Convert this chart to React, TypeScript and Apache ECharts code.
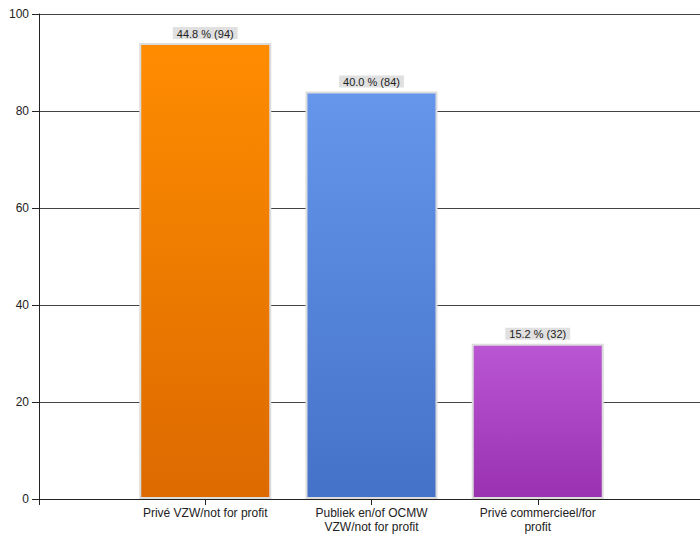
import React, { useEffect, useRef } from "react";
import * as echarts from "echarts";

const categories = ["Privé VZW/not for profit", "Publiek en/of OCMW\nVZW/not for profit", "Privé commercieel/for\nprofit"];
const counts = [94, 84, 32];
const percents = ["44.8", "40.0", "15.2"];
const yTicks = { min: 0, max: 100, interval: 20 };
const colorsTop = ["#ff8c00", "#6596ec", "#ba55d4"];
const colorsBottom = ["#dc6a00", "#4472c8", "#9a32b0"];

export default function App() {
  const ref = useRef<HTMLDivElement>(null);
  useEffect(() => {
    const chart = echarts.init(ref.current!, null, { renderer: "svg" });
    const font = "'Liberation Sans', Arial, sans-serif";
    chart.setOption({
      animation: false,
      grid: { left: 39, right: 0, top: 14, bottom: 40 },
      xAxis: {
        type: "value",
        min: 0,
        max: 4,
        interval: 1,
        splitLine: { show: false },
        axisLine: { show: true, lineStyle: { color: "#222", width: 1 } },
        axisTick: { show: true, length: 6, lineStyle: { color: "#222" } },
        axisLabel: {
          margin: 7,
          color: "#222",
          fontFamily: font,
          fontSize: 12,
          lineHeight: 14,
          formatter: (v: number) => (v >= 1 && v <= 3 ? categories[v - 1] : ""),
        },
      },
      yAxis: {
        type: "value",
        min: yTicks.min,
        max: yTicks.max,
        interval: yTicks.interval,
        axisLine: { show: true, lineStyle: { color: "#222", width: 1 } },
        axisTick: { show: true, length: 7, lineStyle: { color: "#222" } },
        axisLabel: { margin: 10, color: "#222", fontFamily: font, fontSize: 12 },
        splitLine: { show: true, lineStyle: { color: "#444", width: 1 } },
      },
      series: [
        {
          type: "bar",
          barWidth: 132,
          data: counts.map((c, i) => ({
            value: [i + 1, c],
            itemStyle: {
              color: new echarts.graphic.LinearGradient(0, 0, 0, 1, [
                { offset: 0, color: colorsTop[i] },
                { offset: 1, color: colorsBottom[i] },
              ]),
              borderColor: "#dcdcdc",
              borderWidth: 2,
            },
          })),
          label: {
            show: true,
            position: "top",
            distance: 4,
            formatter: (p: any) => `${percents[p.dataIndex]} % (${counts[p.dataIndex]})`,
            backgroundColor: "#e0e0e0",
            padding: [1, 4, 0, 4],
            color: "#222",
            fontFamily: font,
            fontSize: 11,
          },
        },
      ],
    });
    return () => chart.dispose();
  }, []);
  return (
    <div style={{ width: 700, height: 539, position: "absolute", left: 0, top: 0, overflow: "hidden" }}>
      <div ref={ref} style={{ width: 707, height: 539 }} />
    </div>
  );
}
